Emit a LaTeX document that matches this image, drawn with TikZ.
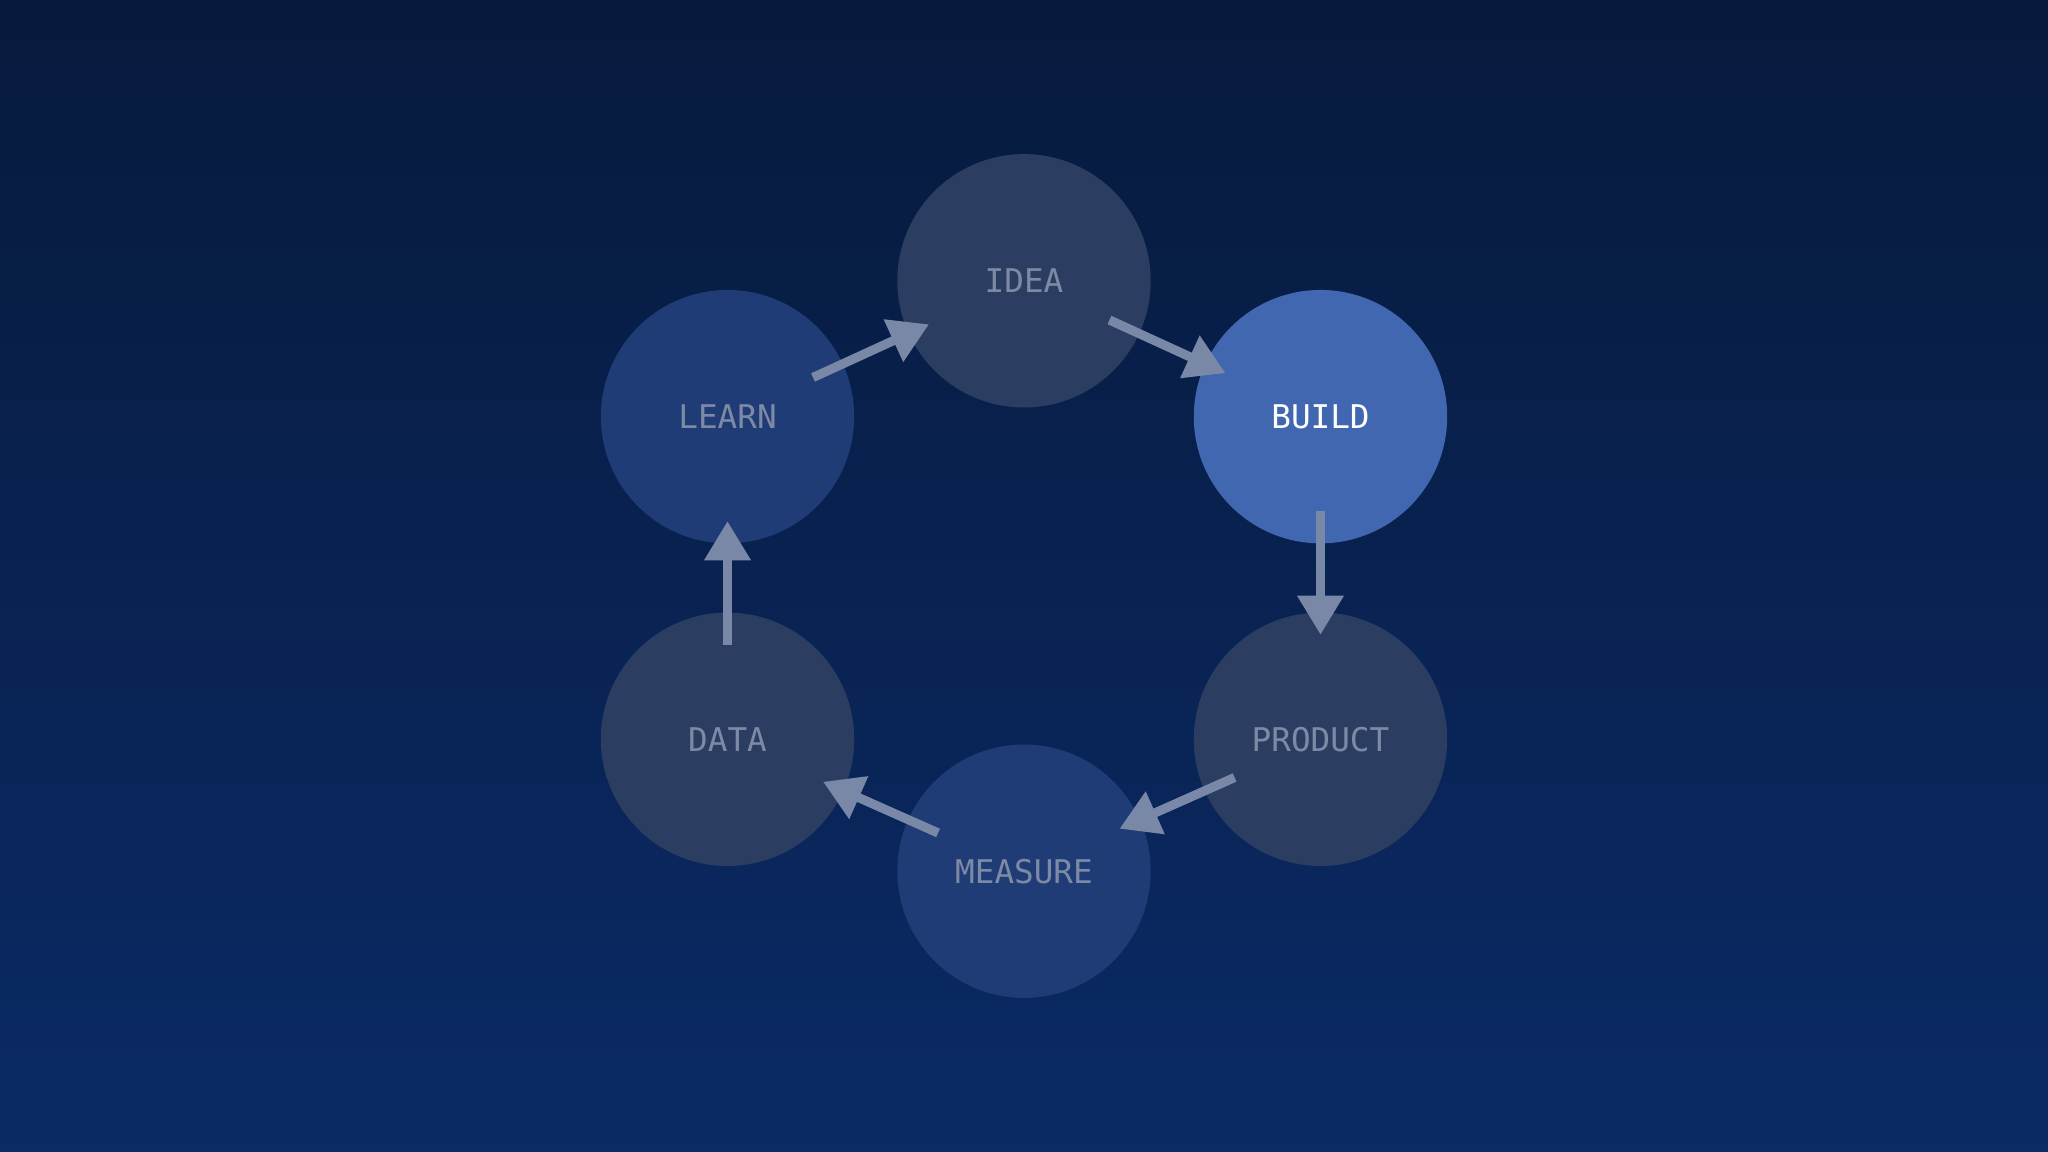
\documentclass[tikz,border=0pt]{standalone}
\usepackage{fontspec}
\setmonofont{DejaVu Sans Mono}
\usetikzlibrary{arrows.meta}
\definecolor{bgtop}{HTML}{061A3C}
\definecolor{bgbot}{HTML}{0B2A66}
\definecolor{cgray}{HTML}{2B3E62}
\definecolor{cblue}{HTML}{1F3C76}
\definecolor{cbuild}{HTML}{4167B1}
\definecolor{tgray}{HTML}{7D8AA6}
\definecolor{arr}{HTML}{7A88A8}
\tikzset{
  stage/.style={circle,minimum size=194pt,inner sep=0pt,font=\ttfamily\fontsize{25}{25}\selectfont,text=tgray},
  flow/.style={draw=arr,line width=7pt,-{Triangle[length=30pt,width=34pt]},shorten <=72pt,shorten >=80pt}
}
\begin{document}
\begin{tikzpicture}[x=1pt,y=-1pt]
\shade[top color=bgtop,bottom color=bgbot] (0,0) rectangle (1568,882);
\useasboundingbox (0,0) rectangle (1568,882);
\node[stage,fill=cgray] (idea) at (784,215) {IDEA};
\node[stage,fill=cbuild,text=white] (build) at (1011,319) {BUILD};
\node[stage,fill=cgray] (product) at (1011,566) {PRODUCT};
\node[stage,fill=cblue] (measure) at (784,667) {MEASURE};
\node[stage,fill=cgray] (data) at (557,566) {DATA};
\node[stage,fill=cblue] (learn) at (557,319) {LEARN};
\draw[flow] (learn.center) -- (idea.center);
\draw[flow] (idea.center) -- (build.center);
\draw[flow] (build.center) -- (product.center);
\draw[flow] (product.center) -- (measure.center);
\draw[flow] (measure.center) -- (data.center);
\draw[flow] (data.center) -- (learn.center);
\end{tikzpicture}
\end{document}
